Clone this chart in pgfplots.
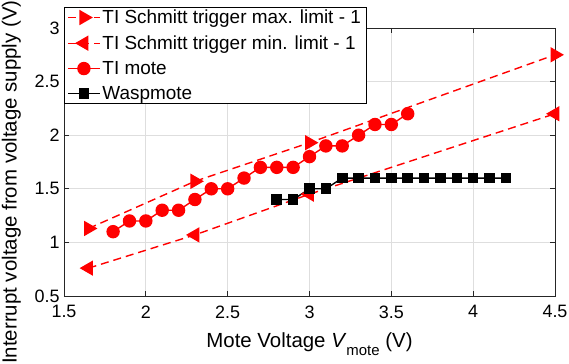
\documentclass[border=0pt]{standalone}
\usepackage{fontspec}
\setmainfont{Liberation Sans}
\usepackage{pgfplots}
\pgfplotsset{compat=1.18}
\definecolor{gridgray}{gray}{0.87}
\definecolor{axgray}{gray}{0.15}
\begin{document}
\begin{tikzpicture}
\begin{axis}[
  at={(0,0)}, anchor=south west,
  scale only axis, width=491bp, height=268bp,
  xmin=1.5, xmax=4.5, ymin=0.5, ymax=3,
  xtick={1.5,2,2.5,3,3.5,4,4.5}, ytick={0.5,1,1.5,2,2.5,3},
  grid=major, major grid style={gridgray, line width=0.7bp},
  tick align=inside, xtick pos=both, ytick pos=both,
  major tick length=5bp,
  axis line style={axgray, line width=0.7bp},
  tick style={axgray, line width=0.7bp},
  ticklabel style={font=\fontsize{18}{20}\selectfont},
  xticklabel style={yshift=-6bp},
  yticklabel style={xshift=-1bp},
  /pgf/number format/assume math mode=true,
  label style={font=\fontsize{20.5}{23}\selectfont},
  xlabel={Mote Voltage \textit{V}\raisebox{-8bp}{\fontsize{15}{15}\selectfont mote} (V)},
  xlabel style={at={(axis description cs:0.5,0)}, anchor=base, yshift=-51bp},
  ylabel={Interrupt voltage from voltage supply (V)},
  ylabel style={at={(axis description cs:-0.107,0.425)}, anchor=center, rotate=0},
  legend style={at={(axis description cs:0,1.08)}, anchor=north west, draw=black, line width=0.7bp, fill=white,
    font=\fontsize{19}{21}\selectfont, row sep=6.5bp, inner xsep=3bp, inner ysep=1bp},
  legend cell align=left,
  legend image code/.code={\draw[mark repeat=2,mark phase=2] plot coordinates {(0cm,0cm)(0.56cm,0cm)(1.12cm,0cm)};},
  clip=false,
]
\addplot[red, line width=1.4bp, dash pattern=on 8bp off 5bp, mark=triangle*, mark size=7.5bp, mark options={solid, rotate=-90}]
  coordinates {(1.65,1.13)(2.3,1.57)(3.0,1.93)(4.5,2.75)};
\addlegendentry{TI Schmitt trigger max. limit - 1\hspace{12bp}}
\addplot[red, line width=1.4bp, dash pattern=on 8bp off 5bp, mark=triangle*, mark size=7.5bp, mark options={solid, rotate=90}]
  coordinates {(1.65,0.76)(2.3,1.07)(3.0,1.45)(4.5,2.2)};
\addlegendentry{TI Schmitt trigger min. limit - 1}
\addplot[red, line width=1.4bp, mark=*, mark size=6bp, mark options={solid, fill=red}]
  coordinates {(1.8,1.1)(1.9,1.2)(2.0,1.2)(2.1,1.3)(2.2,1.3)(2.3,1.4)(2.4,1.5)(2.5,1.5)(2.6,1.6)(2.7,1.7)(2.8,1.7)(2.9,1.7)(3.0,1.8)(3.1,1.9)(3.2,1.9)(3.3,2.0)(3.4,2.1)(3.5,2.1)(3.6,2.2)};
\addlegendentry{TI mote}
\addplot[black, line width=1.4bp, mark=square*, mark size=4.6bp, mark options={solid, fill=black}]
  coordinates {(2.8,1.4)(2.9,1.4)(3.0,1.5)(3.1,1.5)(3.2,1.6)(3.3,1.6)(3.4,1.6)(3.5,1.6)(3.6,1.6)(3.7,1.6)(3.8,1.6)(3.9,1.6)(4.0,1.6)(4.1,1.6)(4.2,1.6)};
\addlegendentry{Waspmote}
\end{axis}
\pgfresetboundingbox
\path[use as bounding box] (-64bp,-68bp) rectangle (505bp,296bp);
\end{tikzpicture}
\end{document}
